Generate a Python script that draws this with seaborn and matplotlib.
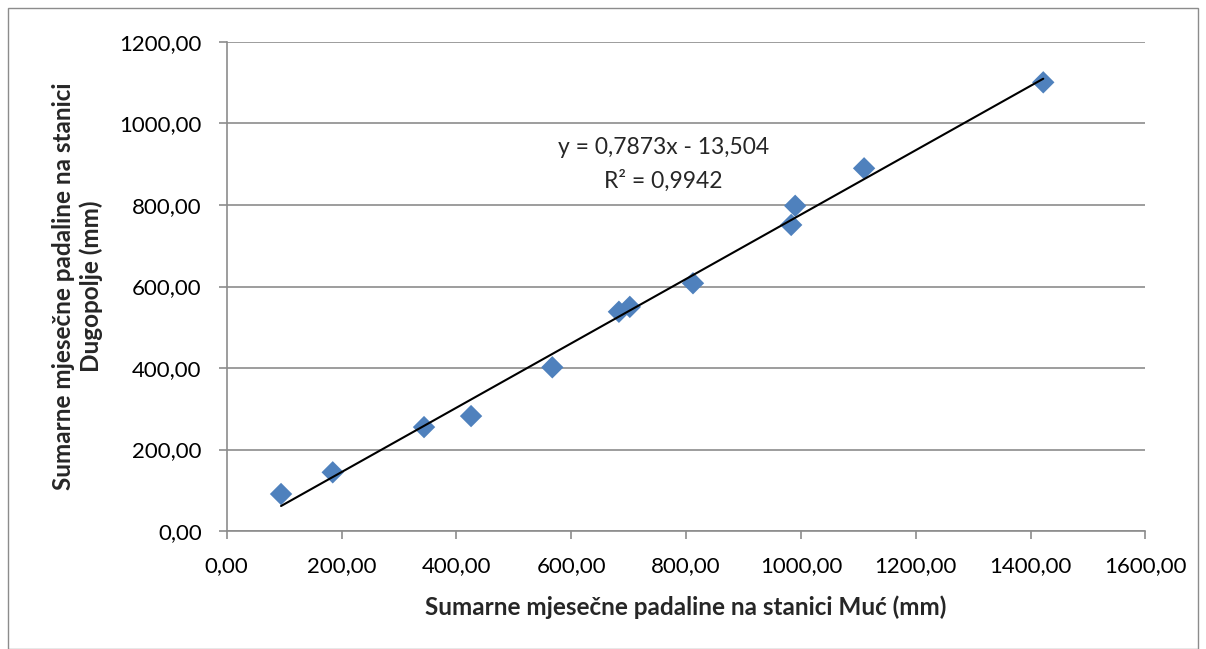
import matplotlib
matplotlib.use("Agg")
import matplotlib.pyplot as plt
import seaborn as sns
import numpy as np
import pandas as pd
from matplotlib.ticker import FuncFormatter
from matplotlib.patches import Rectangle

# Data
muc = [94.6, 184.6, 343.6, 425.5, 567.0, 683.0, 702.0, 812.0, 983.0, 990.0, 1110.0, 1422.0]
dugopolje = [90.8, 144.0, 255.0, 282.0, 401.7, 538.0, 550.0, 608.0, 751.0, 798.0, 890.0, 1101.0]
equation_text = "y = 0,7873x - 13,504"
r2_text = "R² = 0,9942"
x_label = "Sumarne mjesečne padaline na stanici Muć (mm)"
y_label = "Sumarne mjesečne padaline na stanici\nDugopolje (mm)"

df = pd.DataFrame({"muc": muc, "dugopolje": dugopolje})

sns.set_theme(style="white")
plt.rcParams['font.family'] = ['Lato', 'DejaVu Sans']

fig = plt.figure(figsize=(12.06, 6.49), dpi=100)
ax = fig.add_axes([0.188, 0.1818, 0.9498 - 0.188, 0.9353 - 0.1818])

# outer border
fig.patches.append(Rectangle((8 / 1206, 0.0), (1198 - 8) / 1206, 1 - 8 / 649,
                             transform=fig.transFigure, fill=False,
                             edgecolor="#8c8c8c", linewidth=1.0))

sns.regplot(data=df, x="muc", y="dugopolje", ax=ax, ci=None, truncate=True,
            marker="D",
            scatter_kws={"s": 130, "color": "#4F81BD", "edgecolor": "none", "zorder": 3, "alpha": 1},
            line_kws={"color": "black", "linewidth": 1.5, "zorder": 4})

ax.set_xlim(0, 1600)
ax.set_ylim(0, 1200)
ax.set_xticks(np.arange(0, 1601, 200))
ax.set_yticks(np.arange(0, 1201, 200))
fmt = FuncFormatter(lambda v, p: f"{v:.2f}".replace(".", ","))
ax.xaxis.set_major_formatter(fmt)
ax.yaxis.set_major_formatter(fmt)

ax.grid(axis="y", color="#8c8c8c", linewidth=1.2)
ax.grid(axis="x", visible=False)
ax.set_axisbelow(True)
for s in ["top", "right"]:
    ax.spines[s].set_visible(False)
for s in ["left", "bottom"]:
    ax.spines[s].set_color("#8c8c8c")
    ax.spines[s].set_linewidth(1.2)
ax.tick_params(axis="both", which="major", direction="out", length=6, width=1.2,
               color="#8c8c8c", labelsize=16, labelcolor="black", pad=6)
ax.tick_params(axis="x", bottom=True, pad=12)
ax.tick_params(axis="y", left=True, pad=12)

ax.set_xlabel(x_label, fontsize=17.5, fontweight="bold", labelpad=14)
ax.set_ylabel(y_label, fontsize=17.5, fontweight="bold", labelpad=12, linespacing=1.2)

ax.text(760, 942, equation_text, ha="center", va="center", fontsize=16.5)
ax.text(760, 859, r2_text, ha="center", va="center", fontsize=16.5)

fig.savefig("out.png", dpi=100)
